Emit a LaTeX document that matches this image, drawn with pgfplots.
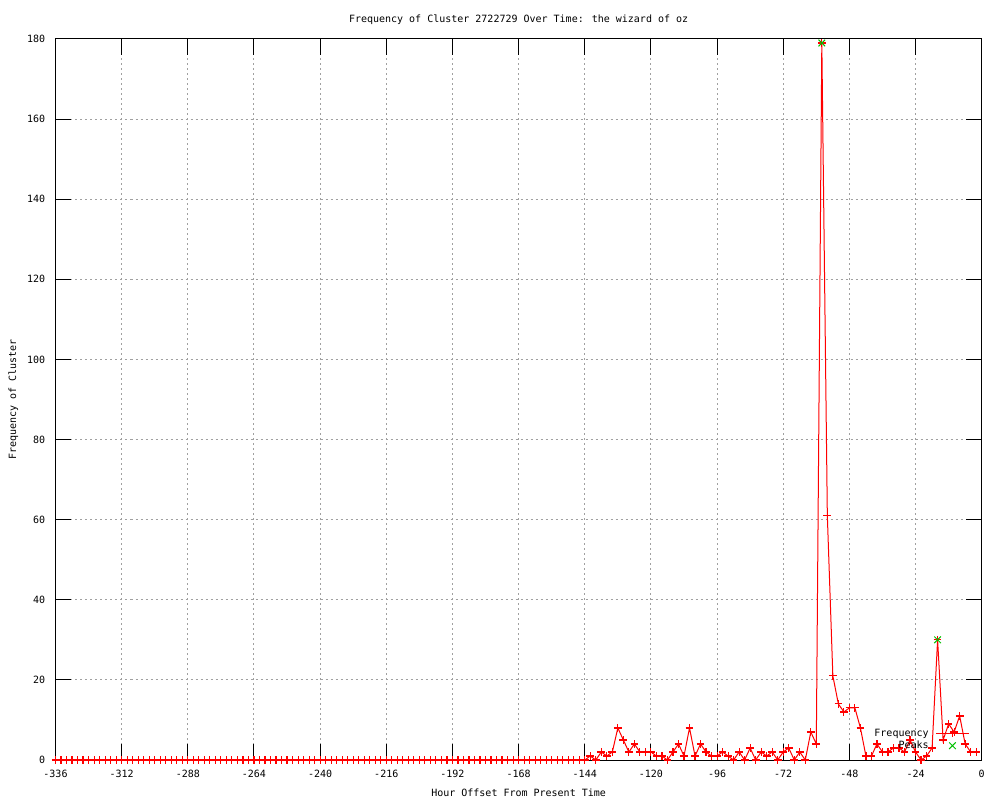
\documentclass[border=0pt]{standalone}
\usepackage{pgfplots}
\pgfplotsset{compat=1.18}
\usepackage{fontspec}
\setmainfont{DejaVu Sans Mono}
\definecolor{gpred}{RGB}{255,0,0}
\definecolor{gpgreen}{RGB}{0,192,0}
\definecolor{gpgrid}{RGB}{160,160,160}
\pgfplotsset{legend image code/.code={\draw[mark repeat=2,mark phase=2,#1] plot coordinates {(0pt,0pt) (12.25pt,0pt) (24.5pt,0pt)};}}
\begin{document}
\begin{tikzpicture}[font=\fontsize{7.5}{9}\selectfont]
\path[use as bounding box] (-41.625pt,-30pt) rectangle (708.375pt,570pt);
\begin{axis}[
  at={(0pt,0pt)}, anchor=south west,
  scale only axis, width=694.65pt, height=540.75pt,
  xmin=-336, xmax=0, ymin=0, ymax=180,
  xtick={-336,-312,-288,-264,-240,-216,-192,-168,-144,-120,-96,-72,-48,-24,0},
  xticklabels={-336,-312,-288,-264,-240,-216,-192,-168,-144,-120,-96,-72,-48,-24,0},
  ytick={0,20,40,60,80,100,120,140,160,180},
  yticklabels={0,20,40,60,80,100,120,140,160,180},
  tick align=inside,
  major tick length=12pt,
  every tick/.style={black, line width=0.75pt},
  axis line style={black, line width=0.75pt},
  grid=major,
  major grid style={gpgrid, line width=0.75pt, dash pattern=on 1.5pt off 2.25pt},
  xticklabel style={anchor=north, inner sep=0pt, yshift=-7.3pt},
  yticklabel style={anchor=east, inner sep=0pt, xshift=-7.5pt},
  title={Frequency of Cluster 2722729 Over Time: the wizard of oz},
  xlabel={Hour Offset From Present Time},
  ylabel={Frequency of Cluster},
  every axis title/.style={at={(axis description cs:0.5,1)}, anchor=base, yshift=12.5pt},
  every axis x label/.style={at={(axis description cs:0.5,0)}, anchor=base, yshift=-27.2pt},
  every axis y label/.style={at={(axis description cs:0,0.5)}, anchor=base, rotate=90, yshift=29.5pt},
  legend style={draw=none, fill=none, at={(axis description cs:0.98661,0.0132)}, anchor=south east,
    inner sep=0pt, outer sep=0pt, row sep=2pt, column sep=5.25pt, nodes={inner sep=0pt}},
  legend cell align=right,
  legend plot pos=right,
]
\addplot[gpred, line width=0.75pt, mark=+, mark size=2.9pt,
  mark options={line width=0.85pt}]
coordinates {
(-336,0) (-334,0) (-332,0) (-330,0) (-328,0) (-326,0) (-324,0) (-322,0) (-320,0) (-318,0)
(-316,0) (-314,0) (-312,0) (-310,0) (-308,0) (-306,0) (-304,0) (-302,0) (-300,0) (-298,0)
(-296,0) (-294,0) (-292,0) (-290,0) (-288,0) (-286,0) (-284,0) (-282,0) (-280,0) (-278,0)
(-276,0) (-274,0) (-272,0) (-270,0) (-268,0) (-266,0) (-264,0) (-262,0) (-260,0) (-258,0)
(-256,0) (-254,0) (-252,0) (-250,0) (-248,0) (-246,0) (-244,0) (-242,0) (-240,0) (-238,0)
(-236,0) (-234,0) (-232,0) (-230,0) (-228,0) (-226,0) (-224,0) (-222,0) (-220,0) (-218,0)
(-216,0) (-214,0) (-212,0) (-210,0) (-208,0) (-206,0) (-204,0) (-202,0) (-200,0) (-198,0)
(-196,0) (-194,0) (-192,0) (-190,0) (-188,0) (-186,0) (-184,0) (-182,0) (-180,0) (-178,0)
(-176,0) (-174,0) (-172,0) (-170,0) (-168,0) (-166,0) (-164,0) (-162,0) (-160,0) (-158,0)
(-156,0) (-154,0) (-152,0) (-150,0) (-148,0) (-146,0)
(-144,0) (-142,1) (-140,0) (-138,2) (-136,1) (-134,2) (-132,8) (-130,5) (-128,2) (-126,4)
(-124,2) (-122,2) (-120,2) (-118,1) (-116,1) (-114,0) (-112,2) (-110,4) (-108,1) (-106,8)
(-104,1) (-102,4) (-100,2) (-98,1) (-96,1) (-94,2) (-92,1) (-90,0) (-88,2) (-86,0)
(-84,3) (-82,0) (-80,2) (-78,1) (-76,2) (-74,0) (-72,2) (-70,3) (-68,0) (-66,2)
(-64,0) (-62,7) (-60,4) (-58,179) (-56,61) (-54,21) (-52,14) (-50,12) (-48,13) (-46,13)
(-44,8) (-42,1) (-40,1) (-38,4) (-36,2) (-34,2) (-32,3) (-30,3) (-28,2) (-26,5)
(-24,2) (-22,0) (-20,1) (-18,3) (-16,30) (-14,5) (-12,9) (-10,7) (-8,11) (-6,4)
(-4,2) (-2,2)
};
\addlegendentry{Frequency}
\addplot[gpgreen, only marks, mark=x, mark size=3.5pt, mark options={line width=0.75pt}]
coordinates {(-58,179) (-16,30)};
\addlegendentry{Peaks}
\end{axis}
\end{tikzpicture}
\end{document}
